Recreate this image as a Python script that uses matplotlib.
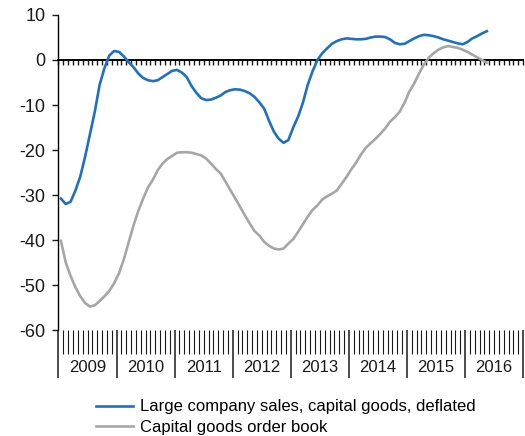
import numpy as np
import matplotlib
matplotlib.use("Agg")
import matplotlib.pyplot as plt
import matplotlib.transforms as mtransforms

plt.rcParams['font.family'] = ['Liberation Sans', 'DejaVu Sans']
plt.rcParams['axes.unicode_minus'] = False

# monthly values, Jan 2009 .. May 2016
years = [2009, 2010, 2011, 2012, 2013, 2014, 2015, 2016]
sales = [-30.8, -32.0, -31.5, -29.0, -25.9, -21.5, -16.5, -11.5, -5.5, -1.8,
         1.0, 2.0, 1.8, 0.8, -0.5, -1.6, -3.0, -4.0, -4.5, -4.7,
         -4.5, -3.8, -3.1, -2.4, -2.2, -2.8, -3.8, -5.8, -7.3, -8.5,
         -8.9, -8.8, -8.4, -7.9, -7.1, -6.7, -6.5, -6.6, -6.9, -7.4,
         -8.2, -9.4, -10.8, -13.5, -15.9, -17.5, -18.4, -17.8, -15.0, -12.6,
         -9.5, -5.5, -2.5, 0.0, 1.5, 2.6, 3.6, 4.2, 4.6, 4.8,
         4.7, 4.6, 4.6, 4.7, 5.0, 5.2, 5.2, 5.1, 4.6, 3.8,
         3.5, 3.6, 4.2, 4.8, 5.3, 5.6, 5.5, 5.3, 5.0, 4.6,
         4.3, 4.0, 3.7, 3.5, 4.0, 4.8, 5.3, 5.9, 6.4]
orders = [-40.2, -45.0, -48.0, -50.5, -52.5, -54.0, -54.8, -54.5, -53.6, -52.5,
          -51.3, -49.6, -47.4, -44.3, -40.5, -36.8, -33.5, -30.8, -28.3, -26.6,
          -24.5, -23.0, -22.0, -21.3, -20.6, -20.5, -20.5, -20.6, -20.9, -21.2,
          -21.9, -23.0, -24.2, -25.2, -27.0, -28.9, -30.7, -32.6, -34.5, -36.3,
          -38.0, -39.0, -40.4, -41.3, -41.9, -42.1, -41.9, -40.8, -39.8, -38.2,
          -36.5, -34.8, -33.3, -32.3, -31.0, -30.3, -29.7, -29.0, -27.5, -26.0,
          -24.3, -22.8, -21.0, -19.5, -18.5, -17.5, -16.4, -15.2, -13.7, -12.7,
          -11.5, -9.5, -7.0, -5.2, -3.0, -1.0, 0.5, 1.5, 2.3, 2.8,
          3.1, 2.9, 2.7, 2.3, 1.8, 1.2, 0.6, 0.0, -0.6]
labels = ["Large company sales, capital goods, deflated",
          "Capital goods order book"]
colors = ["#1f70c0", "#a6a6a6"]

n_months = 12 * len(years)
ymin, ymax = -60, 10

fig = plt.figure(figsize=(5.25, 4.36), dpi=100)
ax = fig.add_axes([0.1114, 0.2431, 0.885, 0.7225])

ax.plot(np.arange(len(sales)) + 0.5, sales, color=colors[0], lw=1.9,
        label=labels[0], zorder=3)
ax.plot(np.arange(len(orders)) + 0.5, orders, color=colors[1], lw=1.9,
        label=labels[1], zorder=3)

ax.set_xlim(0, n_months)
ax.set_ylim(ymin, ymax)

for s in ['top', 'right', 'bottom']:
    ax.spines[s].set_visible(False)
ax.spines['left'].set_linewidth(1.0)

ax.set_yticks(np.arange(ymin, ymax + 1, 10))
ax.tick_params(axis='y', direction='out', length=4.3, width=1.0,
               labelsize=13, pad=5, colors='#1a1a1a')

# category axis at the bottom: month ticks and long year dividers
ax.set_xticks(np.arange(0, n_months + 1, 12))
ax.set_xticks(np.arange(0, n_months + 1), minor=True)
ax.set_xticklabels([])
ax.tick_params(axis='x', which='major', direction='out', length=34.5,
               width=1.1, color='#1a1a1a')
ax.tick_params(axis='x', which='minor', direction='out', length=17.3,
               width=0.8, color='#1a1a1a')

trans = mtransforms.blended_transform_factory(ax.transData, ax.transAxes)
for k, yr in enumerate(years):
    ax.text(12 * k + 6, -0.118, str(yr), transform=trans, ha='center',
            va='center', fontsize=12, color='#1a1a1a')

# zero line with small monthly ticks
zero = ax.secondary_xaxis((0 - ymin) / (ymax - ymin))
zero.spines['top'].set_linewidth(1.4)
zero.set_xticks(np.arange(0, n_months + 1))
zero.set_xticklabels([])
zero.tick_params(axis='x', direction='in', length=3.8, width=1.0,
                 color='#1a1a1a')

fig.legend(loc='upper left', bbox_to_anchor=(0.183, 0.084), frameon=False,
           fontsize=12, handlelength=2.2, handletextpad=0.42,
           labelspacing=0.33, borderpad=0, borderaxespad=0)

fig.savefig("out.png", dpi=100)
